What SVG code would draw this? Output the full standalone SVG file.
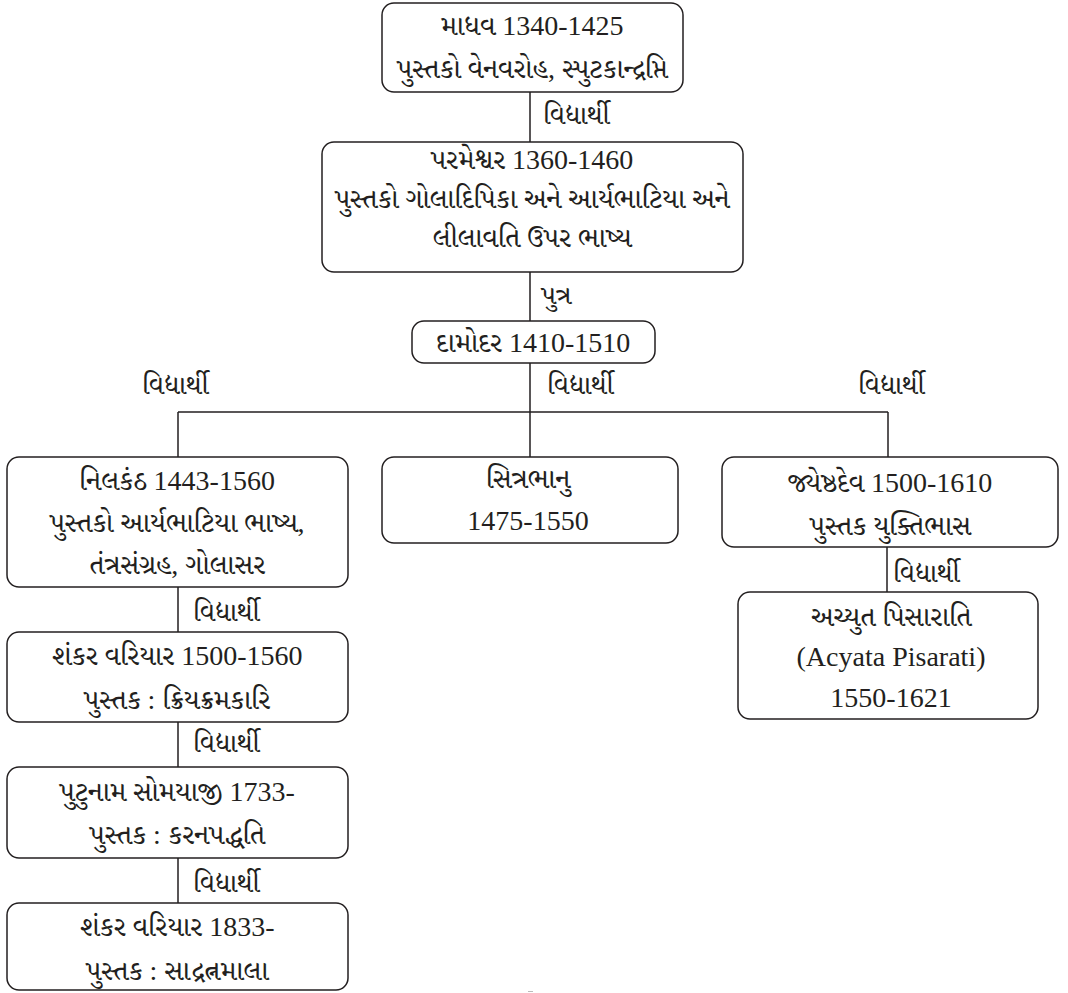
<svg xmlns="http://www.w3.org/2000/svg" width="1068" height="993" viewBox="0 0 1068 993">
<style>
.box{fill:#ffffff;stroke:#231f20;stroke-width:1.5}
.t{font-family:"Liberation Serif","Noto Serif Gujarati","Noto Sans Gujarati","Lohit Gujarati",serif;font-size:28px;fill:#231f20;text-anchor:middle}
.lbl{font-family:"Liberation Serif","Noto Serif Gujarati","Noto Sans Gujarati","Lohit Gujarati",serif;font-size:27px;fill:#231f20}
.ln{fill:none;stroke:#231f20;stroke-width:1.5}
</style>
<rect width="1068" height="993" fill="#ffffff"/>
<g id="connectors">
<path class="ln" d="M530 92V142M530 272V321M530 363V457M178 412H888M178 412V457M888 412V457M887 547V592M178 587V632M178 722V767M178 858V903"/>
<text class="lbl" x="543" y="124">વિદ્યાર્થી</text>
<text class="lbl" x="541" y="304">પુત્ર</text>
<text class="lbl" x="142" y="394">વિદ્યાર્થી</text>
<text class="lbl" x="547" y="394">વિદ્યાર્થી</text>
<text class="lbl" x="858" y="394">વિદ્યાર્થી</text>
<text class="lbl" x="893" y="582">વિદ્યાર્થી</text>
<text class="lbl" x="193" y="621">વિદ્યાર્થી</text>
<text class="lbl" x="193" y="752">વિદ્યાર્થી</text>
<text class="lbl" x="193" y="892">વિદ્યાર્થી</text>
</g>
<g id="madhava">
<rect class="box" x="382" y="3" width="301" height="89" rx="12"/>
<text class="t" x="532" y="35">માધવ 1340-1425</text>
<text class="t" x="532" y="78">પુસ્તકો વેનવરોહ, સ્પુટકાન્દ્રપ્તિ</text>
</g>
<g id="parameshvara">
<rect class="box" x="322" y="142" width="421" height="130" rx="12"/>
<text class="t" x="532" y="169">પરમેશ્વર 1360-1460</text>
<text class="t" x="532" y="208">પુસ્તકો ગોલાદિપિકા અને આર્યભાટિયા અને</text>
<text class="t" x="532" y="247">લીલાવતિ ઉપર ભાષ્ય</text>
</g>
<g id="damodara">
<rect class="box" x="412" y="321" width="243" height="42" rx="12"/>
<text class="t" x="533" y="352">દામોદર 1410-1510</text>
</g>
<g id="nilakantha">
<rect class="box" x="7" y="457" width="341" height="130" rx="12"/>
<text class="t" x="177" y="490">નિલકંઠ 1443-1560</text>
<text class="t" x="177" y="532">પુસ્તકો આર્યભાટિયા ભાષ્ય,</text>
<text class="t" x="177" y="574">તંત્રસંગ્રહ, ગોલાસર</text>
</g>
<g id="chitrabhanu">
<rect class="box" x="382" y="457" width="296" height="86" rx="12"/>
<text class="t" x="528" y="488">સિત્રભાનુ</text>
<text class="t" x="528" y="530">1475-1550</text>
</g>
<g id="jyeshthadeva">
<rect class="box" x="722" y="457" width="336" height="90" rx="12"/>
<text class="t" x="890" y="492">જ્યેષ્ઠદેવ 1500-1610</text>
<text class="t" x="890" y="535">પુસ્તક યુક્તિભાસ</text>
</g>
<g id="achyuta">
<rect class="box" x="738" y="592" width="300" height="127" rx="12"/>
<text class="t" x="891" y="626">અચ્યુત પિસારાતિ</text>
<text class="t" x="891" y="666">(Acyata  Pisarati)</text>
<text class="t" x="891" y="707">1550-1621</text>
</g>
<g id="shankara1">
<rect class="box" x="7" y="632" width="341" height="90" rx="12"/>
<text class="t" x="177" y="665">શંકર વરિયાર 1500-1560</text>
<text class="t" x="177" y="709">પુસ્તક : ક્રિયક્રમકારિ</text>
</g>
<g id="putumana">
<rect class="box" x="7" y="767" width="341" height="91" rx="12"/>
<text class="t" x="177" y="801">પુટુનામ સોમયાજી 1733-</text>
<text class="t" x="177" y="844">પુસ્તક : કરનપદ્ધતિ</text>
</g>
<g id="shankara2">
<rect class="box" x="7" y="903" width="341" height="87" rx="12"/>
<text class="t" x="177" y="936">શંકર વરિયાર 1833-</text>
<text class="t" x="177" y="980">પુસ્તક : સાદ્રત્નમાલા</text>
</g>
<rect x="528" y="991" width="5" height="1" fill="#bbbbbb"/>
</svg>
